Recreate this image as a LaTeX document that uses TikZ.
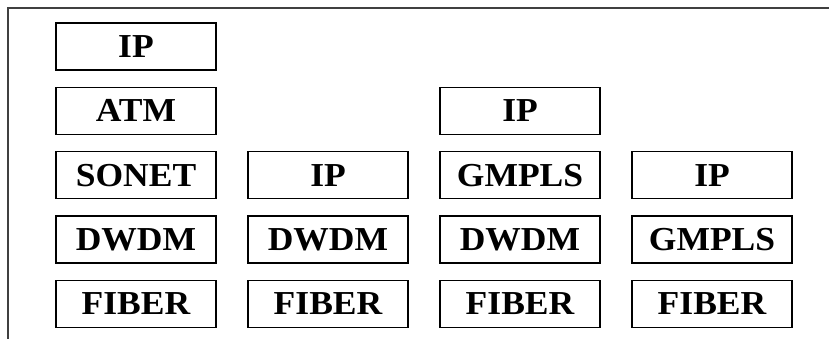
\documentclass[tikz,border=0pt]{standalone}
\usepackage{fontspec}
\newfontfamily\layerfont[FakeStretch=1.06]{Liberation Serif}
\usetikzlibrary{positioning}
\tikzset{
    layer/.style={draw, line width=1.4pt, minimum width=160pt, minimum height=47pt,
        inner sep=0pt, font=\layerfont\fontsize{33.5}{38}\selectfont\bfseries},
    frame/.style={draw=black!75, line width=1.2pt}
}
\begin{document}
\begin{tikzpicture}[x=1pt, y=-1pt, node distance=16pt]
    \useasboundingbox (0,0) rectangle (829,339);
    \draw[frame] (829,8) -- (8,8) -- (8,339);

    % bottom row
    \node[layer] (fiberA) at (136,304) {FIBER};
    \node[layer] (fiberB) at (328,304) {FIBER};
    \node[layer] (fiberC) at (520,304) {FIBER};
    \node[layer] (fiberD) at (712,304) {FIBER};

    % first stack
    \node[layer, above=of fiberA] (dwdmA) {DWDM};
    \node[layer, above=of dwdmA] (sonetA) {SONET};
    \node[layer, above=of sonetA] (atmA) {ATM};
    \node[layer, above=of atmA] (ipA) {IP};

    % second stack
    \node[layer, above=of fiberB] (dwdmB) {DWDM};
    \node[layer, above=of dwdmB] (ipB) {IP};

    % third stack
    \node[layer, above=of fiberC] (dwdmC) {DWDM};
    \node[layer, above=of dwdmC] (gmplsC) {GMPLS};
    \node[layer, above=of gmplsC] (ipC) {IP};

    % fourth stack
    \node[layer, above=of fiberD] (gmplsD) {GMPLS};
    \node[layer, above=of gmplsD] (ipD) {IP};
\end{tikzpicture}
\end{document}
